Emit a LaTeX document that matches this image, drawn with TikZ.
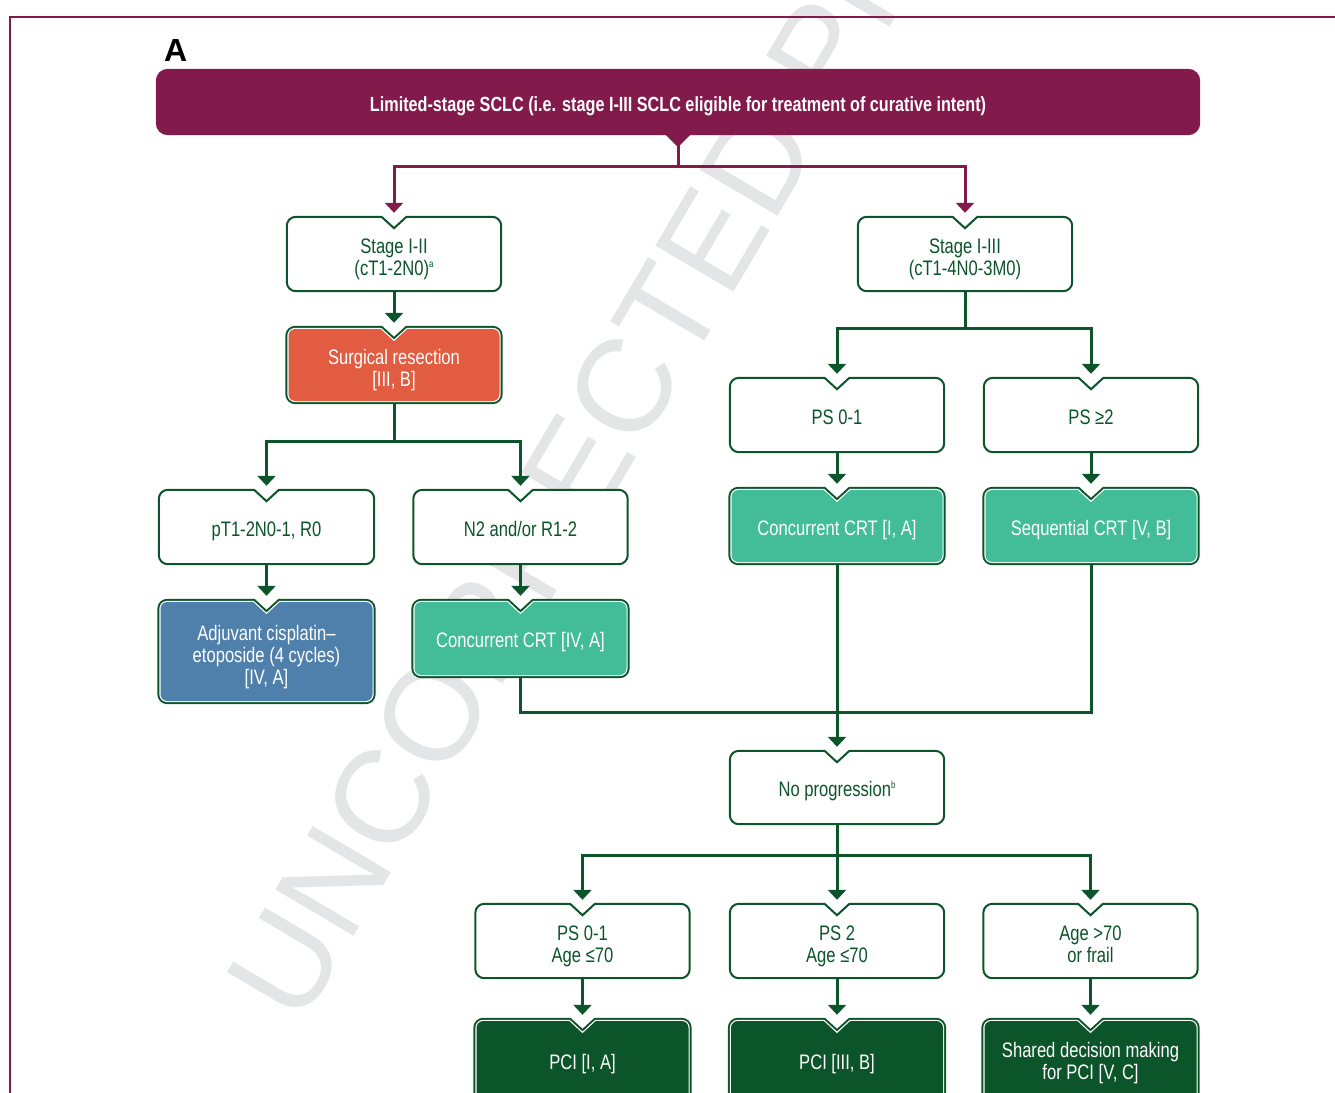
\documentclass[tikz,border=0pt]{standalone}
\usepackage{fontspec}
\setmainfont{Liberation Sans}
\newfontfamily\cond[FakeStretch=0.79]{Liberation Sans}
\usetikzlibrary{arrows.meta,calc,backgrounds}
\definecolor{pur}{RGB}{130,26,76}
\definecolor{dgr}{RGB}{12,84,42}
\definecolor{tealc}{RGB}{67,188,152}
\definecolor{orac}{RGB}{225,92,64}
\definecolor{bluc}{RGB}{79,128,172}
\definecolor{wmc}{RGB}{228,229,231}
\newcommand\sps[1]{\raisebox{8.5pt}{\fontsize{10}{10}\selectfont #1}}
\newcommand\nshape[2]{let \p1=(#1.north west), \p2=(#1.south east), \p3=(#1.north) in
 ({\x3-12pt-0.41*#2pt},{\y1-#2pt}) -- (\x3,{\y1-11pt-1.41*#2pt}) -- ({\x3+12pt+0.41*#2pt},{\y1-#2pt})
 -- ({\x2-10pt},{\y1-#2pt}) arc[start angle=90,end angle=0,radius={(10-#2)*1pt}]
 -- ({\x2-#2pt},{\y2+10pt}) arc[start angle=0,end angle=-90,radius={(10-#2)*1pt}]
 -- ({\x1+10pt},{\y2+#2pt}) arc[start angle=270,end angle=180,radius={(10-#2)*1pt}]
 -- ({\x1+#2pt},{\y1-10pt}) arc[start angle=180,end angle=90,radius={(10-#2)*1pt}]
 -- cycle}
\tikzset{
 box/.style={inner sep=0pt, minimum width=216pt, minimum height=76pt, align=center,
   font=\cond\fontsize{21}{22}\selectfont, text height=18pt, text depth=0pt},
 two/.style={text height=43pt},
 three/.style={text height=66pt},
 wtxt/.style={box, text=dgr},
 ctxt/.style={box, text=white},
 gline/.style={draw=dgr, line width=3pt},
 garrow/.style={gline, -{Triangle[width=18pt,length=10pt]}},
 pline/.style={draw=pur, line width=3pt},
 parrow/.style={pline, -{Triangle[width=18pt,length=10pt]}},
 wbox/.style={draw=dgr, line width=2pt, fill=white},
}
\begin{document}
\begin{tikzpicture}[x=1pt,y=1pt]
\useasboundingbox (0,0) rectangle (1335,-1092);
\clip (0,0) rectangle (1335,-1092);

% title and label
\node[inner sep=0pt, minimum width=1044pt, minimum height=66pt, text=white,
  text height=18pt, text depth=0pt,
  font=\cond\bfseries\fontsize{20.5}{24}\selectfont] (top) at (678,-102)
  {Limited-stage SCLC (i.e. stage I-III SCLC eligible for treatment of curative intent)};
\node[inner sep=0pt, anchor=base west, font=\bfseries\fontsize{32}{32}\selectfont] (lblA) at (164,-61) {A};

% boxes
\node[wtxt, two] (stageA) at (394,-254) {Stage I-II\\(cT1-2N0)\sps{a}};
\node[wtxt, two] (stageB) at (965,-254) {Stage I-III\\(cT1-4N0-3M0)};
\node[ctxt, two, minimum width=217pt, minimum height=78pt] (surg) at (394,-365) {Surgical resection\\{}[III, B]};
\node[wtxt] (ps01) at (837,-415) {PS 0-1};
\node[wtxt] (ps2) at (1091,-415) {PS ≥2};
\node[wtxt, minimum width=217pt] (pT) at (266.5,-527) {pT1-2N0-1, R0};
\node[wtxt] (n2) at (520.5,-527) {N2 and/or R1-2};
\node[ctxt, minimum width=217pt, minimum height=78pt] (ccrt1) at (837,-526) {Concurrent CRT [I, A]};
\node[ctxt, minimum width=217pt, minimum height=78pt] (seq) at (1091,-526) {Sequential CRT [V, B]};
\node[ctxt, three, minimum width=218pt, minimum height=105pt] (adj) at (266.5,-651.5) {Adjuvant cisplatin–\\etoposide (4 cycles)\\{}[IV, A]};
\node[ctxt, minimum width=218pt, minimum height=79pt] (ccrt4) at (520.5,-638.5) {Concurrent CRT [IV, A]};
\node[wtxt, minimum height=75pt] (noprog) at (837,-787.5) {No progression\sps{b}};
\node[wtxt, two] (a1) at (582.5,-941) {PS 0-1\\Age ≤70};
\node[wtxt, two] (a2) at (837,-941) {PS 2\\Age ≤70};
\node[wtxt, two] (a3) at (1090.5,-941) {Age >70\\or frail};
\node[ctxt, text height=16pt, minimum width=218pt, minimum height=86pt] (pci1) at (582.5,-1061) {PCI [I, A]};
\node[ctxt, text height=16pt, minimum width=218pt, minimum height=86pt] (pci2) at (837,-1061) {PCI [III, B]};
\node[ctxt, text height=36pt, minimum width=218pt, minimum height=86pt] (sdm) at (1090.5,-1061) {Shared decision making\\for PCI [V, C]};

\begin{scope}[on background layer]
 \node[inner sep=0pt, anchor=base west, rotate=59.5, text=wmc,
   font=\fontsize{132}{132}\selectfont] (wmk) at (300,-1028) {UNCORRECTED PROOF};
 \fill[pur, rounded corners=12pt] (top.north west) rectangle (top.south east);
 \fill[pur] ([xshift=-13pt,yshift=1pt]top.south) -- ([yshift=-12pt]top.south) -- ([xshift=13pt,yshift=1pt]top.south) -- cycle;
 \foreach \bx in {stageA,stageB,ps01,ps2,pT,n2,noprog,a1,a2,a3}{
   \path[wbox] \nshape{\bx}{1};
 }
 \foreach \bx/\bc in {surg/orac,ccrt1/tealc,seq/tealc,adj/bluc,ccrt4/tealc,pci1/dgr,pci2/dgr,sdm/dgr}{
   \fill[dgr] \nshape{\bx}{0};
   \fill[white] \nshape{\bx}{2};
   \fill[\bc] \nshape{\bx}{3.2};
 }
\end{scope}

% frame
\draw[pur, line width=2pt] (10,-1100) -- (10,-17) -- (1345,-17);

% purple connectors
\coordinate (tj) at ([yshift=-31pt]top.south);
\draw[pline] ([yshift=-10pt]top.south) -- (tj);
\draw[parrow] (tj) -| ([yshift=3pt]stageA.north);
\draw[parrow] (tj) -| ([yshift=3pt]stageB.north);

% green connectors
\draw[garrow] (stageA.south) -- ([yshift=3pt]surg.north);
\coordinate (j1) at ([yshift=-37pt]surg.south);
\draw[gline] (surg.south) -- (j1);
\draw[garrow] (j1) -| ([yshift=3pt]pT.north);
\draw[garrow] (j1) -| ([yshift=3pt]n2.north);
\coordinate (j2) at ([yshift=-36pt]stageB.south);
\draw[gline] (stageB.south) -- (j2);
\draw[garrow] (j2) -| ([yshift=3pt]ps01.north);
\draw[garrow] (j2) -| ([yshift=3pt]ps2.north);
\draw[garrow] (ps01.south) -- ([yshift=3pt]ccrt1.north);
\draw[garrow] (ps2.south) -- ([yshift=3pt]seq.north);
\draw[garrow] (pT.south) -- ([yshift=3pt]adj.north);
\draw[garrow] (n2.south) -- ([yshift=3pt]ccrt4.north);
\coordinate (m) at (837,-712);
\draw[gline] (ccrt4.south) |- (m);
\draw[gline] (seq.south) |- (m);
\draw[garrow] (ccrt1.south) -- ([yshift=3pt]noprog.north);
\coordinate (j3) at ([yshift=-30pt]noprog.south);
\draw[gline] (noprog.south) -- (j3);
\draw[garrow] (j3) -| ([yshift=3pt]a1.north);
\draw[garrow] (j3) -- ([yshift=3pt]a2.north);
\draw[garrow] (j3) -| ([yshift=3pt]a3.north);
\draw[garrow] (a1.south) -- ([yshift=3pt]pci1.north);
\draw[garrow] (a2.south) -- ([yshift=3pt]pci2.north);
\draw[garrow] (a3.south) -- ([yshift=3pt]sdm.north);
\end{tikzpicture}
\end{document}
